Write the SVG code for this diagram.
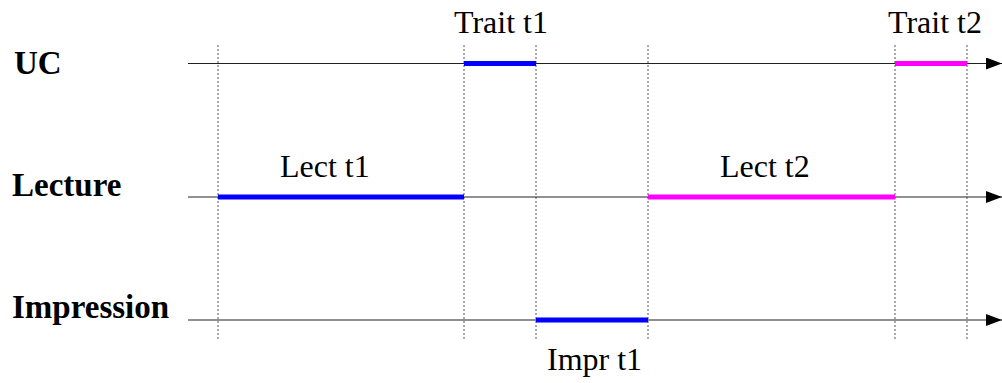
<svg xmlns="http://www.w3.org/2000/svg" width="1002" height="383" viewBox="0 0 1002 383">
<style>
.lbl{font-family:"Liberation Serif","Times New Roman",serif;font-size:33px;font-weight:bold;fill:#000}
.txt{font-family:"Liberation Serif","Times New Roman",serif;font-size:32px;fill:#000}
.axis{stroke:#222;stroke-width:1.2;fill:none}
.dot{stroke:#555;stroke-width:1;stroke-dasharray:2,2;fill:none}
.blue{stroke:#0000ff;stroke-width:5}
.mag{stroke:#ff00ff;stroke-width:5}
</style>
<defs>
<marker id="arr" markerWidth="18" markerHeight="14" refX="16" refY="6" orient="auto" markerUnits="userSpaceOnUse">
<path d="M0,0 L16,6 L0,12 Z" fill="#000"/>
</marker>
</defs>
<g id="guides">
<line class="dot" x1="218" y1="45" x2="218" y2="339"/>
<line class="dot" x1="464" y1="45" x2="464" y2="339"/>
<line class="dot" x1="536" y1="45" x2="536" y2="339"/>
<line class="dot" x1="648" y1="45" x2="648" y2="339"/>
<line class="dot" x1="895" y1="45" x2="895" y2="339"/>
<line class="dot" x1="967" y1="45" x2="967" y2="339"/>
</g>
<g id="connectors">
<line class="axis" x1="188" y1="63.5" x2="1002" y2="63.5" marker-end="url(#arr)"/>
<line class="axis" x1="188" y1="197" x2="1002" y2="197" marker-end="url(#arr)"/>
<line class="axis" x1="188" y1="320" x2="1002" y2="320" marker-end="url(#arr)"/>
</g>
<g id="uc">
<text class="lbl" x="14" y="74">UC</text>
<line class="blue" x1="464" y1="63.5" x2="536" y2="63.5"/>
<text class="txt" x="454" y="33">Trait t1</text>
<line class="mag" x1="895" y1="63.5" x2="967" y2="63.5"/>
<text class="txt" x="888" y="33">Trait t2</text>
</g>
<g id="lecture">
<text class="lbl" x="12" y="196">Lecture</text>
<line class="blue" x1="218" y1="197" x2="464" y2="197"/>
<text class="txt" x="280" y="177">Lect t1</text>
<line class="mag" x1="648" y1="197" x2="895" y2="197"/>
<text class="txt" x="720" y="177">Lect t2</text>
</g>
<g id="impression">
<text class="lbl" x="12" y="318">Impression</text>
<line class="blue" x1="536" y1="320" x2="648" y2="320"/>
<text class="txt" x="547" y="370">Impr t1</text>
</g>
</svg>
